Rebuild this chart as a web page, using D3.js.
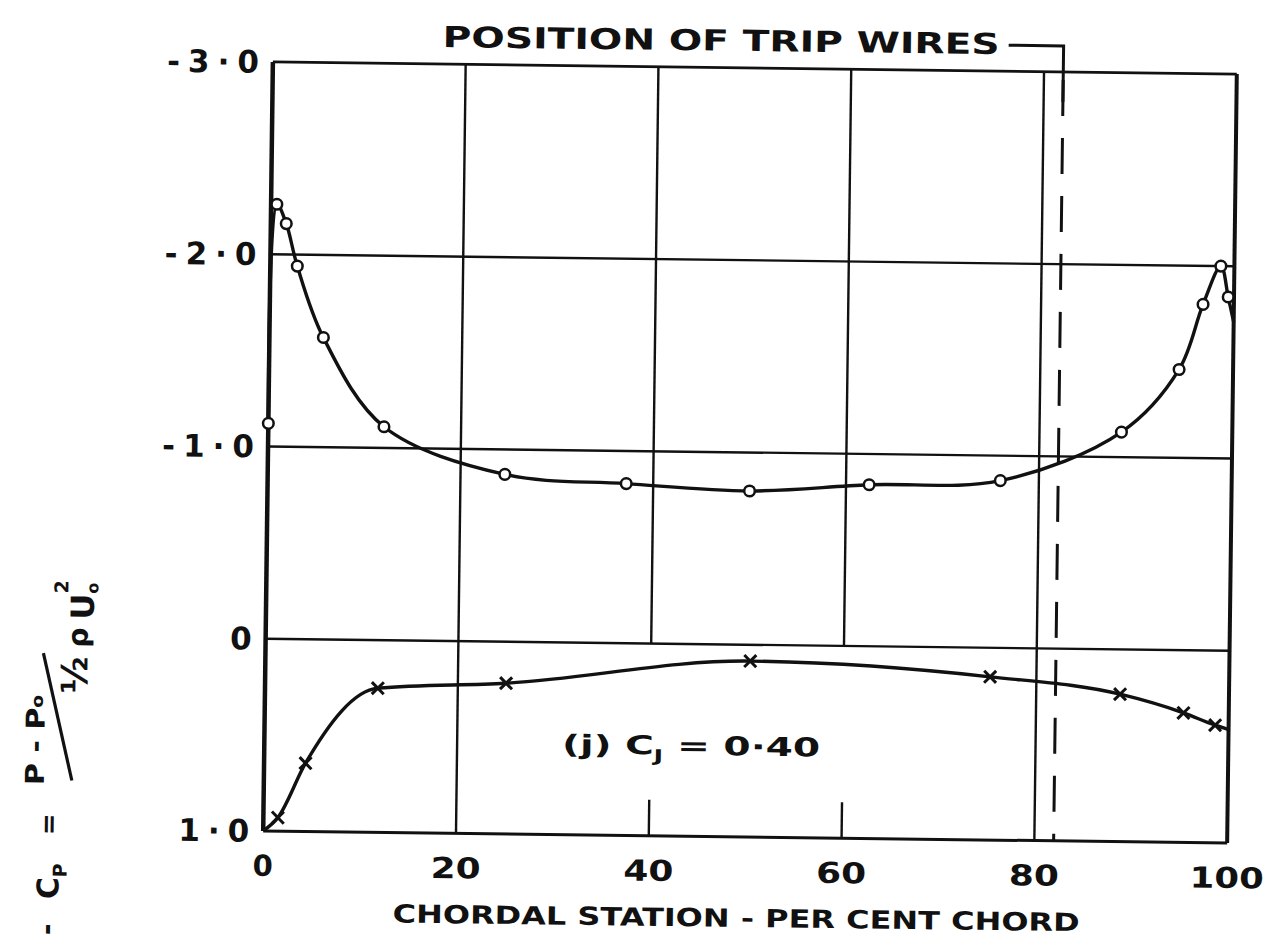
<!DOCTYPE html>
<html>
<head>
<meta charset="utf-8">
<script src="https://cdn.jsdelivr.net/npm/d3@7"></script>
<style>
  body { margin: 0; background: #fff; }
  svg text { font-family: "DejaVu Sans", sans-serif; font-weight: bold; fill: #111; }
</style>
</head>
<body>
<div id="chart"></div>
<script>
// PRESSURE DISTRIBUTION, CJ = 0.40  (-Cp against chordal station)

// axis ticks
const xTicks = [0, 20, 40, 60, 80, 100];
const yTicks = [-3, -2, -1, 0, 1];
const yTickLabels = ["-3·0", "-2·0", "-1·0", "0", "1·0"];

// grid: some verticals stop at the zero line
const fullGridX = [20, 80];
const partGridX = [40, 60];
const gridY = [-2, -1, 0];

// upper surface (open circles)
const upperStation = [0, 0.6, 1.6, 2.8, 5.6, 12, 24.6, 37.2, 50, 62.4, 76, 88.5, 94.4, 96.8, 98.6, 99.4];
const upperCp = [-1.12, -2.26, -2.16, -1.94, -1.57, -1.11, -0.87, -0.83, -0.80, -0.84, -0.87, -1.13, -1.46, -1.80, -2.00, -1.84];
const upperTE = -1.71;

// lower surface (crosses)
const lowerStation = [1.5, 4.3, 11.7, 25, 50.3, 75.2, 88.7, 95.3, 98.6];
const lowerCp = [0.93, 0.645, 0.25, 0.216, 0.085, 0.151, 0.233, 0.326, 0.388];
const lowerLE = 1.0;
const lowerTE = 0.41;

const tripWireAt = 82;

const W = 1264, H = 939;
const svg = d3.select("#chart").append("svg")
  .attr("width", W).attr("height", H);

// the scanned sheet is turned a little clockwise
const g = svg.append("g").attr("transform", "rotate(0.72,750,452.75)");

const x = d3.scaleLinear().domain([0, 100]).range([268, 1232]);
const y = d3.scaleLinear().domain([-3, 1]).range([68, 837]);

const ink = "#111";

// grid lines
g.selectAll(".gy").data(gridY).enter().append("line")
  .attr("x1", x(0)).attr("x2", x(100))
  .attr("y1", d => y(d)).attr("y2", d => y(d))
  .attr("stroke", ink).attr("stroke-width", 2.4);

g.selectAll(".gxf").data(fullGridX).enter().append("line")
  .attr("x1", d => x(d)).attr("x2", d => x(d))
  .attr("y1", y(-3)).attr("y2", y(1))
  .attr("stroke", ink).attr("stroke-width", 2.4);

g.selectAll(".gxp").data(partGridX).enter().append("line")
  .attr("x1", d => x(d)).attr("x2", d => x(d))
  .attr("y1", y(-3)).attr("y2", y(0))
  .attr("stroke", ink).attr("stroke-width", 2.4);

// short stubs at the bottom for 40 and 60
g.selectAll(".gxs").data(partGridX).enter().append("line")
  .attr("x1", d => x(d)).attr("x2", d => x(d))
  .attr("y1", y(1) - 36).attr("y2", y(1))
  .attr("stroke", ink).attr("stroke-width", 2.4);

// trip wire position
g.append("line")
  .attr("x1", x(tripWireAt)).attr("x2", x(tripWireAt))
  .attr("y1", y(-3) + 8).attr("y2", y(1))
  .attr("stroke", ink).attr("stroke-width", 3)
  .attr("stroke-dasharray", "36,22");

g.append("path")
  .attr("d", `M${x(76.3)},42 H${x(tripWireAt)} V${y(-3) + 30}`)
  .attr("fill", "none").attr("stroke", ink).attr("stroke-width", 3);

g.append("text")
  .attr("x", 716).attr("y", 51)
  .attr("text-anchor", "middle")
  .attr("font-size", 29)
  .attr("textLength", 557).attr("lengthAdjust", "spacingAndGlyphs")
  .text("POSITION OF TRIP WIRES");

// frame
g.append("line").attr("x1", x(0)).attr("x2", x(100)).attr("y1", y(-3)).attr("y2", y(-3))
  .attr("stroke", ink).attr("stroke-width", 2.8);
g.append("line").attr("x1", x(0)).attr("x2", x(100)).attr("y1", y(1)).attr("y2", y(1))
  .attr("stroke", ink).attr("stroke-width", 3);
g.append("line").attr("x1", x(0)).attr("x2", x(0)).attr("y1", y(-3)).attr("y2", y(1))
  .attr("stroke", ink).attr("stroke-width", 4.5);
g.append("line").attr("x1", x(100)).attr("x2", x(100)).attr("y1", y(-3)).attr("y2", y(1))
  .attr("stroke", ink).attr("stroke-width", 4);

// tick labels
g.selectAll(".xt").data(xTicks).enter().append("text")
  .attr("x", d => x(d)).attr("y", y(1) + 45)
  .attr("text-anchor", "middle")
  .attr("font-size", 29)
  .attr("textLength", d => String(d).length > 1 ? String(d).length * 24 + 2 : null)
  .attr("lengthAdjust", "spacingAndGlyphs")
  .text(d => d);

g.selectAll(".yt").data(yTicks).enter().append("text")
  .attr("x", x(0) - 6).attr("y", d => y(d) + 11)
  .attr("text-anchor", "end")
  .attr("font-size", 31)
  .attr("letter-spacing", 8)
  .text((d, i) => yTickLabels[i]);

// axis title
g.append("text")
  .attr("x", 742).attr("y", 927)
  .attr("text-anchor", "middle")
  .attr("font-size", 25)
  .attr("textLength", 687).attr("lengthAdjust", "spacingAndGlyphs")
  .text("CHORDAL STATION - PER CENT CHORD");

// y-axis label:  - Cp = (p - p0) / (1/2 rho U0^2)
const yl = g.append("g").attr("transform", "translate(6,944) rotate(-90)");
yl.append("text").attr("x", 0).attr("y", 56).attr("font-size", 28).text("-");
yl.append("text").attr("x", 36).attr("y", 58).attr("font-size", 30)
  .text("C").append("tspan").attr("font-size", 19).attr("dy", 8).text("P");
yl.append("text").attr("x", 100).attr("y", 56).attr("font-size", 26).text("=");
yl.append("text").attr("x", 150).attr("y", 42).attr("font-size", 26)
  .attr("textLength", 90).attr("lengthAdjust", "spacingAndGlyphs")
  .text("P - P").append("tspan").attr("font-size", 16).attr("dy", -2).text("o");
yl.append("line").attr("x1", 155).attr("y1", 70).attr("x2", 282).attr("y2", 40)
  .attr("stroke", ink).attr("stroke-width", 3.2);
yl.append("text").attr("x", 242).attr("y", 84).attr("font-size", 36).text("½");
yl.append("text").attr("x", 288).attr("y", 84).attr("font-size", 28).text("ρ");
yl.append("text").attr("x", 316).attr("y", 90).attr("font-size", 32).text("U");
yl.append("text").attr("x", 342).attr("y", 94).attr("font-size", 16).text("o");
yl.append("text").attr("x", 342).attr("y", 64).attr("font-size", 19).text("2");

// legend
g.append("text")
  .attr("x", x(30.9)).attr("y", y(0.53) + 9)
  .attr("font-size", 26)
  .attr("textLength", 258).attr("lengthAdjust", "spacingAndGlyphs")
  .text("(j)  C")
  .call(t => t.append("tspan").attr("font-size", 17).attr("dy", 7).text("J"))
  .call(t => t.append("tspan").attr("dy", -7).text("  =  0·40"));

// curves
const upperLine = d3.line()
  .x(d => x(d[0])).y(d => y(d[1]))
  .curve(d3.curveCatmullRom.alpha(0.5));
const lowerLine = d3.line()
  .x(d => x(d[0])).y(d => y(d[1]))
  .curve(d3.curveMonotoneX);

const upperPts = upperStation.map((s, i) => [s, upperCp[i]]).concat([[100, upperTE]]);
const lowerPts = [[0, lowerLE]].concat(lowerStation.map((s, i) => [s, lowerCp[i]]), [[100, lowerTE]]);

g.append("path").datum(upperPts).attr("d", upperLine)
  .attr("fill", "none").attr("stroke", ink).attr("stroke-width", 3.4);
g.append("path").datum(lowerPts).attr("d", lowerLine)
  .attr("fill", "none").attr("stroke", ink).attr("stroke-width", 3.4);

// markers
g.selectAll(".up").data(upperStation).enter().append("circle")
  .attr("cx", d => x(d)).attr("cy", (d, i) => y(upperCp[i]))
  .attr("r", 5.3)
  .attr("fill", "#fff").attr("stroke", ink).attr("stroke-width", 2.5);

g.selectAll(".lo").data(lowerStation).enter().append("path")
  .attr("transform", (d, i) => `translate(${x(d)},${y(lowerCp[i])})`)
  .attr("d", "M-6,-6L6,6M-6,6L6,-6")
  .attr("stroke", ink).attr("stroke-width", 3);
</script>
</body>
</html>
